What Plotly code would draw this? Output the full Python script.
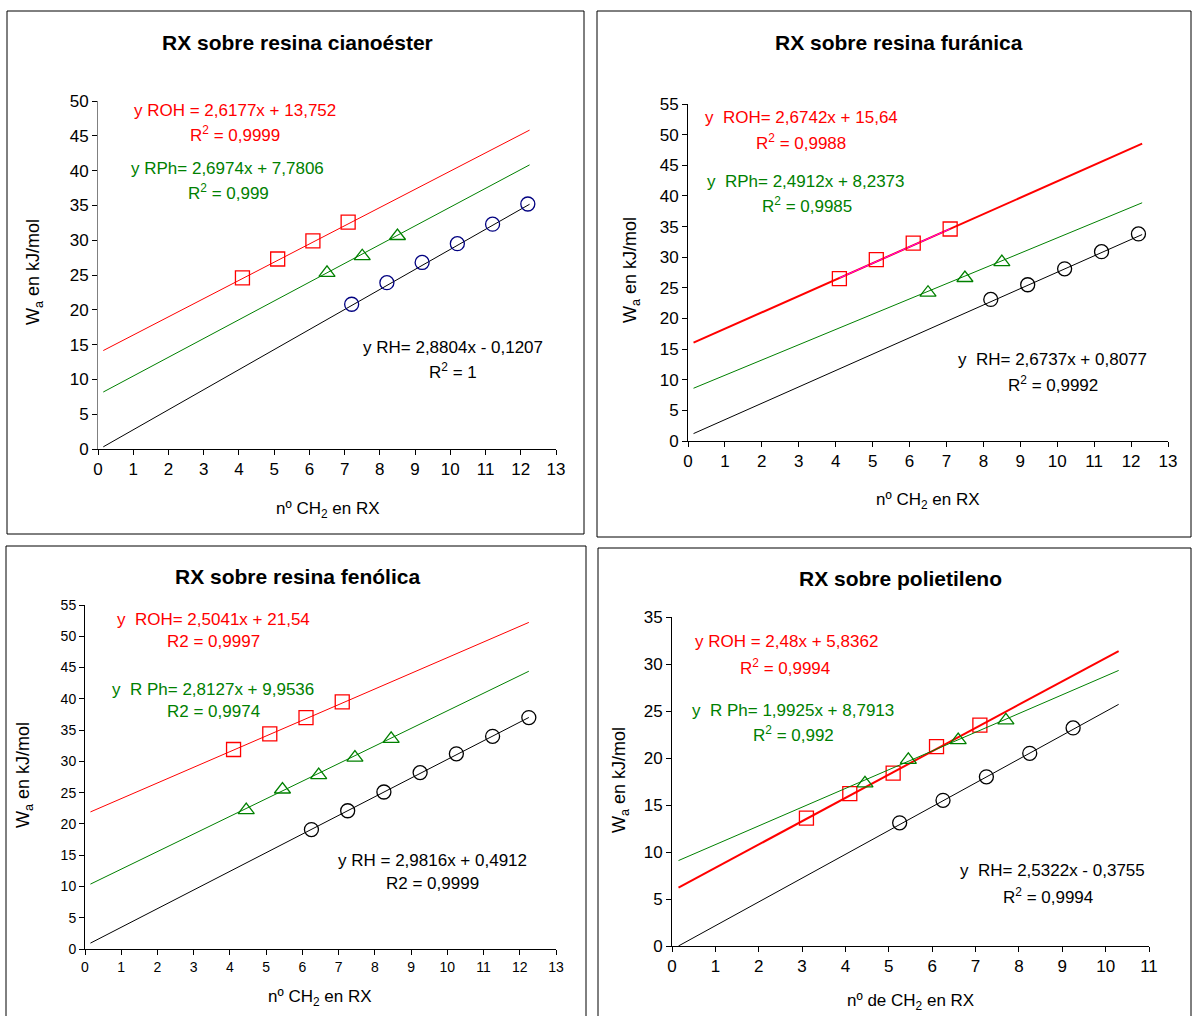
import plotly.graph_objects as go

W, H = 1192, 1016
FONT = "Liberation Sans, Arial, sans-serif"

# ---------------- DATA ----------------
# Panel 1: RX sobre resina cianoéster
ciano_roh_x = [4.1, 5.1, 6.1, 7.1]
ciano_roh_y = [24.6, 27.3, 29.9, 32.6]
ciano_rph_x = [6.5, 7.5, 8.5]
ciano_rph_y = [25.3, 27.7, 30.6]
ciano_rh_x = [7.2, 8.2, 9.2, 10.2, 11.2, 12.2]
ciano_rh_y = [20.8, 23.9, 26.8, 29.5, 32.3, 35.2]
ciano_fit = {"roh": (2.6177, 13.752), "rph": (2.6974, 7.7806), "rh": (2.8804, -0.1207)}
ciano_fit_range = [0.15, 12.25]

# Panel 2: RX sobre resina furánica
fura_roh_x = [4.1, 5.1, 6.1, 7.1]
fura_roh_y = [26.5, 29.6, 32.3, 34.6]
fura_rph_x = [6.5, 7.5, 8.5]
fura_rph_y = [24.2, 26.6, 29.2]
fura_rh_x = [8.2, 9.2, 10.2, 11.2, 12.2]
fura_rh_y = [23.1, 25.5, 28.1, 30.9, 33.8]
fura_fit = {"roh": (2.6742, 15.64), "rph": (2.4912, 8.2373), "rh": (2.6737, 0.8077)}
fura_fit_range = [0.15, 12.3]

# Panel 3: RX sobre resina fenólica
feno_roh_x = [4.1, 5.1, 6.1, 7.1]
feno_roh_y = [31.9, 34.4, 37.0, 39.5]
feno_rph_x = [4.45, 5.45, 6.45, 7.45, 8.45]
feno_rph_y = [22.2, 25.5, 27.8, 30.6, 33.6]
feno_rh_x = [6.25, 7.25, 8.25, 9.25, 10.25, 11.25, 12.25]
feno_rh_y = [19.1, 22.1, 25.1, 28.2, 31.2, 34.0, 37.0]
feno_fit = {"roh": (2.5041, 21.54), "rph": (2.8127, 9.9536), "rh": (2.9816, 0.4912)}
feno_fit_range = [0.15, 12.25]

# Panel 4: RX sobre polietileno
poli_roh_x = [3.1, 4.1, 5.1, 6.1, 7.1]
poli_roh_y = [13.6, 16.2, 18.4, 21.2, 23.5]
poli_rph_x = [4.45, 5.45, 6.6, 7.7]
poli_rph_y = [17.3, 19.8, 21.9, 24.0]
poli_rh_x = [5.25, 6.25, 7.25, 8.25, 9.25]
poli_rh_y = [13.1, 15.5, 18.0, 20.5, 23.2]
poli_fit = {"roh": (2.48, 5.8362), "rph": (1.9925, 8.7913), "rh": (2.5322, -0.3755)}
poli_fit_range = [0.15, 10.3]

x_ranges = [[0, 13], [0, 13], [0, 13], [0, 11]]
y_ranges = [[0, 50], [0, 55], [0, 55], [0, 35]]
y_dticks = [5, 5, 5, 5]

titles = ["RX sobre resina cianoéster", "RX sobre resina furánica",
          "RX sobre resina fenólica", "RX sobre polietileno"]
x_titles = ["nº CH<sub>2</sub> en RX", "nº CH<sub>2</sub> en RX",
            "nº CH<sub>2</sub> en RX", "nº de CH<sub>2</sub> en RX"]
y_title = "W<sub>a</sub> en kJ/mol"

eq_texts = [
    ["y ROH = 2,6177x + 13,752", "R<sup>2</sup> = 0,9999",
     "y RPh= 2,6974x + 7,7806", "R<sup>2</sup> = 0,999",
     "y RH= 2,8804x - 0,1207", "R<sup>2</sup> = 1"],
    ["y  ROH= 2,6742x + 15,64", "R<sup>2</sup> = 0,9988",
     "y  RPh= 2,4912x + 8,2373", "R<sup>2</sup> = 0,9985",
     "y  RH= 2,6737x + 0,8077", "R<sup>2</sup> = 0,9992"],
    ["y  ROH= 2,5041x + 21,54", "R2 = 0,9997",
     "y  R Ph= 2,8127x + 9,9536", "R2 = 0,9974",
     "y RH = 2,9816x + 0,4912", "R2 = 0,9999"],
    ["y ROH = 2,48x + 5,8362", "R<sup>2</sup> = 0,9994",
     "y  R Ph= 1,9925x + 8,7913", "R<sup>2</sup> = 0,992",
     "y  RH= 2,5322x - 0,3755", "R<sup>2</sup> = 0,9994"],
]

# ---------------- LAYOUT (pixels) ----------------
areas = [(98, 556, 101, 449), (688, 1168, 104, 441), (85, 556, 605, 949), (672, 1149, 617, 946)]
borders = [(7, 11, 584, 534), (597, 11, 1191, 537), (6, 546, 586, 1030), (598, 548, 1191, 1030)]
title_pos = [(297, 42), (899, 42), (297, 576), (900, 578)]
xt_pos = [(328, 510), (928, 501), (320, 998), (910, 1002)]
yt_pos = [(35, 272), (631, 270), (24, 775), (620, 780)]
eq_pos = [
    [(235, 110), (235, 134), (227, 168), (228, 192), (453, 347), (453, 371)],
    [(801, 117), (801, 142), (806, 181), (807, 205), (1052, 359), (1053, 384)],
    [(213, 619), (213, 641), (213, 689), (213, 711), (432, 860), (432, 883)],
    [(786, 641), (785, 667), (793, 710), (793, 734), (1052, 870), (1048, 896)],
]
tick_sizes = [17, 17, 14, 17]
yline_cols = ["#808080", "#000000", "#000000", "#000000"]

def px(x):
    return x / W

def py(y):
    return 1 - y / H

RED, GREEN, BLACK, NAVY, MAGENTA = "#FF0000", "#008000", "#000000", "#000080", "#FF00FF"

panels = [
    (ciano_roh_x, ciano_roh_y, ciano_rph_x, ciano_rph_y, ciano_rh_x, ciano_rh_y, ciano_fit, ciano_fit_range, NAVY, 1),
    (fura_roh_x, fura_roh_y, fura_rph_x, fura_rph_y, fura_rh_x, fura_rh_y, fura_fit, fura_fit_range, BLACK, 2),
    (feno_roh_x, feno_roh_y, feno_rph_x, feno_rph_y, feno_rh_x, feno_rh_y, feno_fit, feno_fit_range, BLACK, 1),
    (poli_roh_x, poli_roh_y, poli_rph_x, poli_rph_y, poli_rh_x, poli_rh_y, poli_fit, poli_fit_range, BLACK, 2),
]

fig = go.Figure()
layout = dict(width=W, height=H, margin=dict(l=0, r=0, t=0, b=0, pad=0, autoexpand=False),
              paper_bgcolor="white", plot_bgcolor="white", showlegend=False,
              font=dict(family=FONT, color="black"))
annotations = []
shapes = []

for i, (rx, ry, gx, gy, bx, by, fit, frange, circ_col, redw) in enumerate(panels):
    n = i + 1
    xa = "x" if n == 1 else f"x{n}"
    ya = "y" if n == 1 else f"y{n}"
    series = [
        ("roh", rx, ry, RED, "square-open", redw),
        ("rph", gx, gy, GREEN, "triangle-up-open", 1),
        ("rh", bx, by, circ_col, "circle-open", 1),
    ]
    for key, sx, sy, col, sym, lw in series:
        m, b = fit[key]
        line_col = BLACK if key == "rh" else col
        fx = list(frange)
        fy = [m * v + b for v in fx]
        fig.add_trace(go.Scatter(x=fx, y=fy, mode="lines", xaxis=xa, yaxis=ya,
                                 line=dict(color=line_col, width=lw), hoverinfo="skip"))
        if n == 2 and key == "roh":
            # thin magenta segment over the ROH points, as in the original
            seg_x = [min(sx), max(sx)]
            seg_y = [m * v + b for v in seg_x]
            fig.add_trace(go.Scatter(x=seg_x, y=seg_y, mode="lines", xaxis=xa, yaxis=ya,
                                     line=dict(color=MAGENTA, width=1), hoverinfo="skip"))
        fig.add_trace(go.Scatter(x=sx, y=sy, mode="markers", xaxis=xa, yaxis=ya,
                                 marker=dict(symbol=sym, size=14, color=col,
                                             line=dict(color=col, width=1.3))))
    x0, x1, yt, yb = areas[i]
    axcommon = dict(showgrid=False, zeroline=False, showline=True, automargin=False,
                    linewidth=1, ticks="outside", ticklen=5, tickcolor="#000000",
                    tickfont=dict(size=tick_sizes[i], family=FONT, color="black"))
    layout["xaxis" if n == 1 else f"xaxis{n}"] = dict(
        domain=[px(x0), px(x1)], anchor=ya, range=x_ranges[i], dtick=1,
        linecolor="#000000", **axcommon)
    layout["yaxis" if n == 1 else f"yaxis{n}"] = dict(
        domain=[py(yb), py(yt)], anchor=xa, range=y_ranges[i], dtick=y_dticks[i],
        linecolor=yline_cols[i], **axcommon)

    bl, bt, br, bb = borders[i]
    shapes.append(dict(type="rect", xref="paper", yref="paper",
                       x0=px(bl), x1=px(br), y0=py(bb), y1=py(bt),
                       line=dict(color="black", width=1)))
    tx, ty = title_pos[i]
    annotations.append(dict(text=f"<b>{titles[i]}</b>", x=px(tx), y=py(ty), xref="paper", yref="paper",
                            showarrow=False, font=dict(size=21, family=FONT, color="black"),
                            xanchor="center", yanchor="middle"))
    tx, ty = xt_pos[i]
    annotations.append(dict(text=x_titles[i], x=px(tx), y=py(ty), xref="paper", yref="paper",
                            showarrow=False, font=dict(size=17, family=FONT, color="black"),
                            xanchor="center", yanchor="middle"))
    tx, ty = yt_pos[i]
    annotations.append(dict(text=y_title, x=px(tx), y=py(ty), xref="paper", yref="paper",
                            showarrow=False, textangle=-90,
                            font=dict(size=18, family=FONT, color="black"),
                            xanchor="center", yanchor="middle"))
    cols = [RED, RED, GREEN, GREEN, BLACK, BLACK]
    for j, txt in enumerate(eq_texts[i]):
        ex, ey = eq_pos[i][j]
        annotations.append(dict(text=txt, x=px(ex), y=py(ey), xref="paper", yref="paper",
                                showarrow=False, font=dict(size=17, family=FONT, color=cols[j]),
                                xanchor="center", yanchor="middle"))

layout["annotations"] = annotations
layout["shapes"] = shapes
fig.update_layout(**layout)
fig.write_html("out.html", config={"displayModeBar": False},
               post_script="document.body.style.margin='0';document.body.style.overflow='hidden';")
